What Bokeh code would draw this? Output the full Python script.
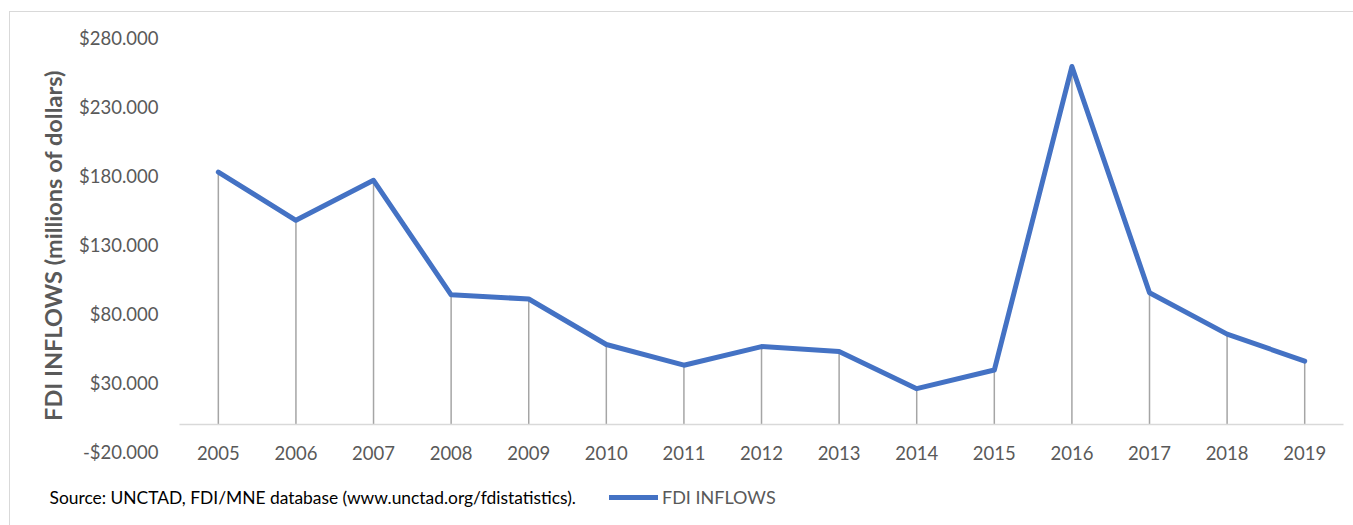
from bokeh.plotting import figure
from bokeh.models import (FixedTicker, CustomJSTickFormatter, Legend, LegendItem,
                          Label, Range1d)
from bokeh.embed import file_html
from bokeh.resources import INLINE

# FDI inflows by year (millions of dollars)
years = [2005, 2006, 2007, 2008, 2009, 2010, 2011, 2012,
         2013, 2014, 2015, 2016, 2017, 2018, 2019]
year_labels = [str(y) for y in years]
fdi_inflows = [183, 148, 177, 94, 91, 58, 43, 56.5, 53, 26, 39.5, 259.5, 95.5, 65.5, 46]
baseline = [0] * len(years)
y_ticks = [-20, 30, 80, 130, 180, 230, 280]

series_name = "FDI INFLOWS"
y_title = "FDI INFLOWS (millions of dollars)"
source_note = "Source: UNCTAD, FDI/MNE database (www.unctad.org/fdistatistics)."

FONT = "Lato"
GREY_TEXT = "#595959"
BLUE = "#4472C4"

# plot area: half a year of padding on each side of the data,
# extra room left of it for the value axis and below it for the notes
X_LO, X_HI = years[0] - 0.5, years[-1] + 0.5
PX_PER_YEAR = 77.58
PX_PER_UNIT = 1.378
x_start = X_LO - 169 / PX_PER_YEAR
x_end = X_HI + 10 / PX_PER_YEAR
y_start = y_ticks[0] - 73.3 / PX_PER_UNIT
y_end = y_ticks[-1] + 25.7 / PX_PER_UNIT

p = figure(width=1343, height=513,
           x_range=Range1d(x_start, x_end),
           y_range=Range1d(y_start, y_end),
           output_backend="svg", toolbar_location=None, min_border=0)
p.margin = (12, 0, 0, 10)
p.styles = {"outline": "1px solid #d9d9d9"}
p.outline_line_color = None
p.background_fill_color = "white"
p.border_fill_color = "white"
p.xgrid.visible = False
p.ygrid.visible = False

# drop lines from each point to zero
p.segment(x0=years, y0=baseline, x1=years, y1=fdi_inflows,
          line_color="#a5a5a5", line_width=1.5)

line = p.line(years, fdi_inflows, line_color=BLUE, line_width=5,
              line_join="round", line_cap="round")

# value axis, placed at the left edge of the data area
ya = p.yaxis[0]
ya.fixed_location = X_LO
ya.bounds = (y_ticks[0], y_ticks[-1])
ya.ticker = FixedTicker(ticks=y_ticks)
ya.formatter = CustomJSTickFormatter(
    code='return (tick < 0 ? "-$" : "$") + Math.abs(tick).toFixed(3);')
ya.axis_line_color = None
ya.major_tick_line_color = None
ya.minor_tick_line_color = None
ya.major_tick_out = 0
ya.major_tick_in = 0
ya.major_label_standoff = 21
ya.major_label_text_font = FONT
ya.major_label_text_font_size = "18.5px"
ya.major_label_text_color = GREY_TEXT
ya.axis_label = y_title
ya.axis_label_text_font = FONT
ya.axis_label_text_font_style = "bold"
ya.axis_label_text_font_size = "23.5px"
ya.axis_label_text_color = GREY_TEXT
ya.axis_label_standoff = 9

# category axis crossing at zero
xa = p.xaxis[0]
xa.fixed_location = 0
xa.bounds = (X_LO, X_HI)
xa.ticker = FixedTicker(ticks=years)
xa.major_label_overrides = dict(zip(years, year_labels))
xa.axis_line_color = "#d9d9d9"
xa.axis_line_width = 1.5
xa.major_tick_line_color = None
xa.minor_tick_line_color = None
xa.major_tick_out = 0
xa.major_tick_in = 0
xa.major_label_standoff = 21
xa.major_label_text_font = FONT
xa.major_label_text_font_size = "18.5px"
xa.major_label_text_color = GREY_TEXT

# source note under the chart
p.add_layout(Label(x=39, y=28, x_units="screen", y_units="screen",
                   text=source_note, text_font=FONT, text_font_size="17.4px",
                   text_color="#000000", text_baseline="middle"))

legend = Legend(items=[LegendItem(label=series_name, renderers=[line])],
                location=(599, 17), glyph_width=49, glyph_height=20,
                label_standoff=4, padding=0, margin=0, spacing=0,
                border_line_color=None, background_fill_alpha=0,
                label_text_font=FONT, label_text_font_size="18px",
                label_text_color=GREY_TEXT)
p.add_layout(legend)

open("out.html", "w").write(file_html(p, INLINE))
